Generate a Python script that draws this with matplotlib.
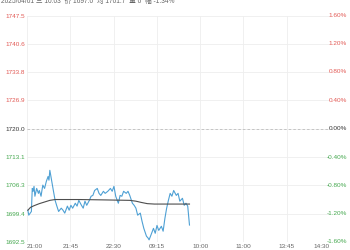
"""Intraday price chart: last price vs. running average, with percent axis."""
import numpy as np
import matplotlib
matplotlib.use("Agg")
import matplotlib.pyplot as plt  # noqa: E402
from matplotlib.transforms import blended_transform_factory  # noqa: E402

TITLE = "2025/04/01 三 10:03  价 1697.0  均 1701.7  量 0  幅 -1.34%"
BASE = 1720.0

# time axis: minutes into the session (21:00 night open -> 15:00 close, 345 min)
SESSION_MIN = 345
TIME_LABELS = ["21:00", "21:45", "22:30", "09:15", "10:00", "11:00", "13:45", "14:30"]

PRICE_LABELS = ["1692.5", "1699.4", "1706.3", "1713.1", "1720.0",
                "1726.9", "1733.8", "1740.6", "1747.5"]
PCT_LABELS = ["-1.60%", "-1.20%", "-0.80%", "-0.40%", "0.00%",
              "0.40%", "0.80%", "1.20%", "1.60%"]

# last price
price_min = [1, 2, 5, 6, 7, 8, 9, 11, 13, 14, 16, 17, 18, 20, 22, 24, 25, 26, 27,
             30, 32, 34, 36, 39, 41, 43, 46, 48, 50, 52, 55, 57, 59, 62, 64, 66,
             68, 71, 73, 75, 77, 80, 82, 84, 87, 89, 92, 95, 97, 99, 101, 104,
             106, 108, 110, 113, 115, 117, 120, 122, 124, 126, 129, 131, 133,
             136, 138, 139, 141, 144, 146, 148, 150, 153, 155, 157, 159, 161,
             163, 165, 167, 170, 172, 174, 177, 179, 181, 183, 185]
price_val = [1700.2, 1699.0, 1699.9, 1705.5, 1704.8, 1706.0, 1703.6, 1705.5,
             1704.3, 1705.0, 1703.6, 1705.0, 1706.3, 1705.5, 1707.2, 1708.4,
             1707.5, 1709.9, 1708.7, 1705.0, 1702.6, 1701.2, 1699.9, 1700.7,
             1700.2, 1699.5, 1701.2, 1700.2, 1701.4, 1700.7, 1701.9, 1701.2,
             1702.6, 1701.4, 1700.7, 1702.4, 1701.4, 1702.6, 1703.6, 1703.8,
             1705.0, 1705.5, 1704.3, 1703.8, 1704.8, 1704.3, 1704.8, 1705.5,
             1704.8, 1706.0, 1703.6, 1701.9, 1703.8, 1703.6, 1704.8, 1704.3,
             1704.8, 1703.8, 1701.9, 1701.4, 1700.7, 1699.0, 1699.5, 1697.5,
             1695.8, 1693.9, 1693.4, 1693.0, 1694.1, 1695.8, 1694.6, 1696.5,
             1695.3, 1696.3, 1695.1, 1698.2, 1700.7, 1702.6, 1704.3, 1703.6,
             1705.0, 1703.8, 1704.3, 1702.4, 1703.1, 1701.4, 1701.9, 1701.2,
             1696.6]

# running average price
avg_min = [1, 4, 8, 14, 20, 26, 32, 60, 90, 117, 124, 130, 137, 145, 165, 185]
avg_val = [1700.2, 1700.9, 1701.3, 1701.8, 1702.2, 1702.6, 1702.8, 1702.8,
           1702.7, 1702.6, 1702.4, 1702.1, 1701.8, 1701.7, 1701.7, 1701.7]

RED = "#e25a55"
GREEN = "#45a84f"
GREY = "#666666"


def main():
    plt.rcParams["font.family"] = ["Liberation Sans", "Noto Sans CJK SC", "DejaVu Sans"]
    W, H = 350, 250
    fig = plt.figure(figsize=(W / 100, H / 100), dpi=100)
    ax = fig.add_axes([27 / W, 1 - 242 / H, 303 / W, (242 - 15.5) / H])

    ax.plot(price_min, price_val, color="#4ea0d4", lw=0.8, zorder=3)
    ax.plot(avg_min, avg_val, color="#4d4d4d", lw=0.8, zorder=4)
    ax.axhline(BASE, color="#bdbdbd", lw=0.6, ls=(0, (3, 2.5)), zorder=2)

    ax.set_xlim(0, SESSION_MIN)
    lo = BASE * (1 - 0.016)
    hi = BASE * (1 + 0.016)
    ax.set_ylim(lo, hi)

    yt = [float(s) for s in PRICE_LABELS]
    ax.set_yticks(yt)
    ax.set_yticklabels(PRICE_LABELS, fontsize=4.6)
    for lab, v in zip(ax.get_yticklabels(), yt):
        lab.set_color(RED if v > BASE else GREEN if v < BASE else "#333333")

    xt = np.linspace(0, SESSION_MIN, len(TIME_LABELS))
    ax.set_xticks(xt)
    ax.set_xticklabels(TIME_LABELS, fontsize=4.6, color=GREY)
    xl = ax.get_xticklabels()
    xl[0].set_ha("left")
    xl[-1].set_ha("right")

    ax.tick_params(length=0, pad=1.2)
    ax.grid(True, color="#eeeeee", lw=0.6)
    for s in ax.spines.values():
        s.set_visible(False)

    tr = blended_transform_factory(fig.transFigure, ax.transData)
    for v, s in zip(yt, PCT_LABELS):
        c = RED if v > BASE else GREEN if v < BASE else "#333333"
        ax.text(347 / W, v, s, transform=tr, ha="right", va="center",
                fontsize=4.6, color=c, clip_on=False)

    fig.text(1 / W, 1 - 1.5 / H, TITLE, ha="left", va="center",
             fontsize=4.8, color=GREY)

    fig.savefig("out.png", dpi=100)


if __name__ == "__main__":
    main()
